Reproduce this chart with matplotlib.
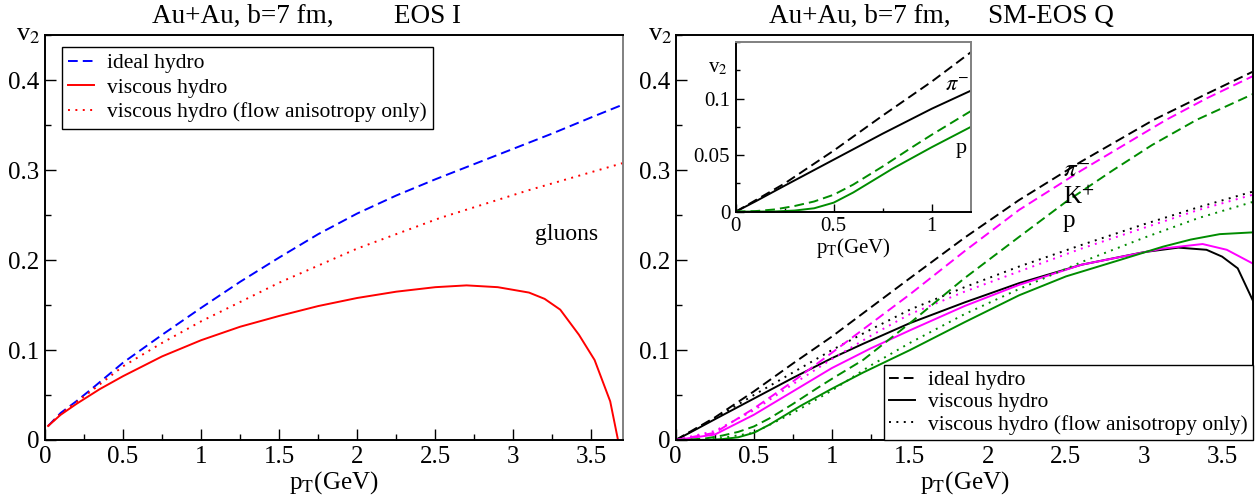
#Elliptic flow v2 vs pT: ideal vs viscous hydro, gluons (EOS I) and hadrons (SM-EOS Q)
import numpy as np
import matplotlib
matplotlib.use('Agg')
import matplotlib.pyplot as plt
from matplotlib.ticker import MultipleLocator

plt.rcParams['font.family'] = ['Liberation Serif', 'DejaVu Serif']
plt.rcParams['mathtext.fontset'] = 'stix'

#left panel: gluons, EOS I
glu_ideal_pt = [0.02, 0.1, 0.2, 0.3, 0.5, 0.75, 1.0, 1.25, 1.5, 1.75, 2.0, 2.25, 2.5, 2.75, 3.0, 3.25, 3.5, 3.7]
glu_ideal_v2 = [0.0156, 0.030, 0.043, 0.057, 0.086, 0.117, 0.147, 0.176, 0.203, 0.229, 0.252, 0.272, 0.290, 0.307, 0.324, 0.341, 0.359, 0.373]
glu_visc_pt = [0.02, 0.1, 0.2, 0.35, 0.5, 0.75, 1.0, 1.25, 1.5, 1.75, 2.0, 2.25, 2.5, 2.7, 2.9, 3.1, 3.2, 3.3, 3.42, 3.52, 3.62, 3.67]
glu_visc_v2 = [0.0156, 0.028, 0.040, 0.0565, 0.071, 0.093, 0.111, 0.126, 0.138, 0.149, 0.158, 0.165, 0.170, 0.172, 0.170, 0.164, 0.157, 0.145, 0.117, 0.089, 0.043, 0.0]
glu_flow_pt = [0.02, 0.1, 0.2, 0.3, 0.5, 0.75, 1.0, 1.5, 2.0, 2.53, 3.1, 3.7]
glu_flow_v2 = [0.0156, 0.029, 0.042, 0.055, 0.082, 0.108, 0.132, 0.175, 0.213, 0.247, 0.278, 0.308]

#right panel: pi-, K+, p with SM-EOS Q
pi_ideal_pt = [0.0, 0.25, 0.5, 0.75, 1.0, 1.2, 1.5, 1.85, 2.2, 2.6, 3.06, 3.4, 3.7]
pi_ideal_v2 = [0.0, 0.025, 0.054, 0.085, 0.115, 0.141, 0.180, 0.225, 0.267, 0.310, 0.356, 0.385, 0.410]
pi_visc_pt = [0.0, 0.1, 0.25, 0.5, 0.75, 1.0, 1.2, 1.5, 1.85, 2.2, 2.6, 3.0, 3.22, 3.4, 3.5, 3.6, 3.7]
pi_visc_v2 = [0.0, 0.009, 0.023, 0.046, 0.069, 0.091, 0.107, 0.130, 0.153, 0.1745, 0.195, 0.209, 0.214, 0.2116, 0.204, 0.191, 0.154]
pi_flow_pt = [0.0, 0.25, 0.5, 0.75, 1.0, 1.25, 1.5, 1.85, 2.2, 2.6, 3.0, 3.35, 3.7]
pi_flow_v2 = [0.0, 0.024, 0.050, 0.075, 0.100, 0.123, 0.145, 0.170, 0.193, 0.217, 0.240, 0.259, 0.2765]

k_ideal_pt = [0.0, 0.25, 0.5, 0.75, 1.0, 1.5, 1.85, 2.2, 2.6, 3.14, 3.4, 3.7]
k_ideal_v2 = [0.0, 0.008, 0.035, 0.065, 0.097, 0.162, 0.210, 0.256, 0.300, 0.356, 0.380, 0.405]
k_visc_pt = [0.0, 0.25, 0.5, 0.75, 1.0, 1.25, 1.5, 1.85, 2.2, 2.6, 3.12, 3.375, 3.53, 3.7]
k_visc_v2 = [0.0, 0.006, 0.028, 0.054, 0.080, 0.102, 0.122, 0.149, 0.1726, 0.195, 0.213, 0.218, 0.2116, 0.196]
k_flow_pt = [0.0, 0.25, 0.5, 0.75, 1.0, 1.25, 1.5, 1.85, 2.2, 2.6, 3.0, 3.35, 3.7]
k_flow_v2 = [0.0, 0.010, 0.033, 0.062, 0.090, 0.116, 0.140, 0.165, 0.1875, 0.213, 0.236, 0.256, 0.273]

p_ideal_pt = [0.0, 0.1, 0.2, 0.3, 0.4, 0.5, 0.6, 0.75, 0.9, 1.0, 1.2, 1.5, 1.85, 2.2, 2.5, 2.8, 3.05, 3.335, 3.7]
p_ideal_v2 = [0.0, 0.0005, 0.002, 0.005, 0.009, 0.015, 0.024, 0.040, 0.057, 0.068, 0.089, 0.130, 0.180, 0.226, 0.265, 0.300, 0.328, 0.356, 0.385]
p_visc_pt = [0.0, 0.2, 0.3, 0.4, 0.5, 0.6, 0.7, 0.8, 0.9, 1.0, 1.1, 1.2, 1.5, 1.85, 2.2, 2.5, 2.84, 3.12, 3.3, 3.485, 3.7]
p_visc_v2 = [0.0, 0.0002, 0.001, 0.003, 0.008, 0.017, 0.0275, 0.038, 0.0475, 0.057, 0.066, 0.075, 0.100, 0.131, 0.161, 0.182, 0.200, 0.215, 0.223, 0.229, 0.231]
p_flow_pt = [0.0, 0.25, 0.5, 0.75, 1.0, 1.25, 1.5, 1.85, 2.2, 2.6, 3.0, 3.35, 3.7]
p_flow_v2 = [0.0, 0.001, 0.008, 0.030, 0.055, 0.083, 0.108, 0.140, 0.168, 0.198, 0.225, 0.247, 0.265]

main_yticks = [0, 0.1, 0.2, 0.3, 0.4]
main_yticklabels = ['0', '0.1', '0.2', '0.3', '0.4']
main_xticks = [0, 0.5, 1, 1.5, 2, 2.5, 3, 3.5]
main_xticklabels = ['0', '0.5', '1', '1.5', '2', '2.5', '3', '3.5']
inset_xticks = [0, 0.5, 1]
inset_xticklabels = ['0', '0.5', '1']
inset_yticks = [0, 0.05, 0.1]
inset_yticklabels = ['0', '0.05', '0.1']

green = '#008c00'
dash = (0, (5, 2.6))
dot = (0, (1, 2.8))
lw = 1.4

fig = plt.figure(figsize=(12.6, 5.04), dpi=100)
ax1 = fig.add_axes([0.0357, 0.127, 0.4585, 0.8026])
ax2 = fig.add_axes([0.5363, 0.127, 0.4584, 0.8026])
axin = fig.add_axes([0.5839, 0.580, 0.1867, 0.3367])

def style_axes(ax, xmax, ymax, xmaj, xmin, ymaj, ymin, size, major_len):
    ax.set_xlim(0, xmax)
    ax.set_ylim(0, ymax)
    ax.xaxis.set_major_locator(MultipleLocator(xmaj))
    ax.xaxis.set_minor_locator(MultipleLocator(xmin))
    ax.yaxis.set_major_locator(MultipleLocator(ymaj))
    ax.yaxis.set_minor_locator(MultipleLocator(ymin))
    ax.tick_params(which='both', direction='in', top=False, right=False, labelsize=size, pad=4, width=1.0)
    ax.tick_params(which='major', length=major_len)
    ax.tick_params(which='minor', length=major_len / 2)
    for s in ax.spines.values():
        s.set_linewidth(1.4)

#left panel
ax1.plot(glu_ideal_pt, glu_ideal_v2, color='#0000ff', lw=lw, linestyle=dash, label='ideal hydro')
ax1.plot(glu_visc_pt, glu_visc_v2, color='#ff0000', lw=lw, label='viscous hydro')
ax1.plot(glu_flow_pt, glu_flow_v2, color='#ff0000', lw=lw, linestyle=dot, label='viscous hydro (flow anisotropy only)')
style_axes(ax1, 3.7, 0.45, 0.5, 0.25, 0.1, 0.05, 18, 8)
ax1.set_xticks(main_xticks, main_xticklabels)
ax1.set_yticks(main_yticks, main_yticklabels)
ax1.spines['right'].set_color('#808080')
ax1.set_xlabel(r'p$_\mathrm{T}$(GeV)', fontsize=18, labelpad=1)
ax1.text(-0.029, 1.0, r'v$_2$', transform=ax1.transAxes, fontsize=19, ha='center', va='center')
ax1.text(3.14, 0.223, 'gluons', fontsize=17)
ax1.text(0.185, 1.0316, 'Au+Au, b=7 fm,', transform=ax1.transAxes, fontsize=19.5, va='baseline')
ax1.text(0.604, 1.0316, 'EOS I', transform=ax1.transAxes, fontsize=19.5, va='baseline')
leg1 = ax1.legend(loc='upper left', bbox_to_anchor=(0.0294, 0.9716), borderaxespad=0, fontsize=15.5,
                  fancybox=False, edgecolor='black', framealpha=1, handlelength=1.2, handletextpad=0.6,
                  borderpad=0.3, labelspacing=0.2)
leg1.get_frame().set_linewidth(1.0)

#right panel
ax2.plot(pi_ideal_pt, pi_ideal_v2, color='black', lw=lw, linestyle=dash, label='ideal hydro')
ax2.plot(pi_visc_pt, pi_visc_v2, color='black', lw=lw, label='viscous hydro')
ax2.plot(pi_flow_pt, pi_flow_v2, color='black', lw=lw, linestyle=dot, label='viscous hydro (flow anisotropy only)')
ax2.plot(k_ideal_pt, k_ideal_v2, color='#ff00ff', lw=lw, linestyle=dash)
ax2.plot(k_visc_pt, k_visc_v2, color='#ff00ff', lw=lw)
ax2.plot(k_flow_pt, k_flow_v2, color='#ff00ff', lw=lw, linestyle=dot)
ax2.plot(p_ideal_pt, p_ideal_v2, color=green, lw=lw, linestyle=dash)
ax2.plot(p_visc_pt, p_visc_v2, color=green, lw=lw)
ax2.plot(p_flow_pt, p_flow_v2, color=green, lw=lw, linestyle=dot)
style_axes(ax2, 3.7, 0.45, 0.5, 0.25, 0.1, 0.05, 18, 8)
ax2.set_xticks(main_xticks, main_xticklabels)
ax2.set_yticks(main_yticks, main_yticklabels)
ax2.set_xlabel(r'p$_\mathrm{T}$(GeV)', fontsize=18, labelpad=1)
ax2.text(-0.027, 1.0, r'v$_2$', transform=ax2.transAxes, fontsize=19, ha='center', va='center')
ax2.text(2.48, 0.293, r'$\pi^{-}$', fontsize=18)
ax2.text(2.48, 0.262, r'K$^{+}$', fontsize=18)
ax2.text(2.48, 0.237, 'p', fontsize=18)
ax2.text(0.162, 1.0316, 'Au+Au, b=7 fm,', transform=ax2.transAxes, fontsize=19.5, va='baseline')
ax2.text(0.5407, 1.0316, 'SM-EOS Q', transform=ax2.transAxes, fontsize=19.5, va='baseline')
leg2 = ax2.legend(loc='lower right', bbox_to_anchor=(1.0, 0.0), borderaxespad=0, fontsize=15.5,
                  fancybox=False, edgecolor='black', framealpha=1, handlelength=1.2, handletextpad=0.6,
                  borderpad=0.25, labelspacing=0.1)
leg2.get_frame().set_linewidth(1.0)

#inset: low pT pions and protons
axin.plot(pi_ideal_pt, pi_ideal_v2, color='black', lw=lw, linestyle=dash)
axin.plot(pi_visc_pt, pi_visc_v2, color='black', lw=lw)
axin.plot(p_ideal_pt, p_ideal_v2, color=green, lw=lw, linestyle=dash)
axin.plot(p_visc_pt, p_visc_v2, color=green, lw=lw)
style_axes(axin, 1.2, 0.15, 0.5, 0.25, 0.05, 0.025, 15, 6)
axin.set_xticks(inset_xticks, inset_xticklabels)
axin.set_yticks(inset_yticks, inset_yticklabels)
axin.spines['right'].set_color('#808080')
axin.spines['top'].set_color('#808080')
axin.set_xlabel(r'p$_\mathrm{T}$(GeV)', fontsize=15, labelpad=0)
axin.text(-0.075, 0.847, r'v$_2$', transform=axin.transAxes, fontsize=15, ha='center', va='center')
axin.text(1.07, 0.107, r'$\pi^{-}$', fontsize=16)
axin.text(1.12, 0.052, 'p', fontsize=16)

fig.savefig('out.png', dpi=100)
